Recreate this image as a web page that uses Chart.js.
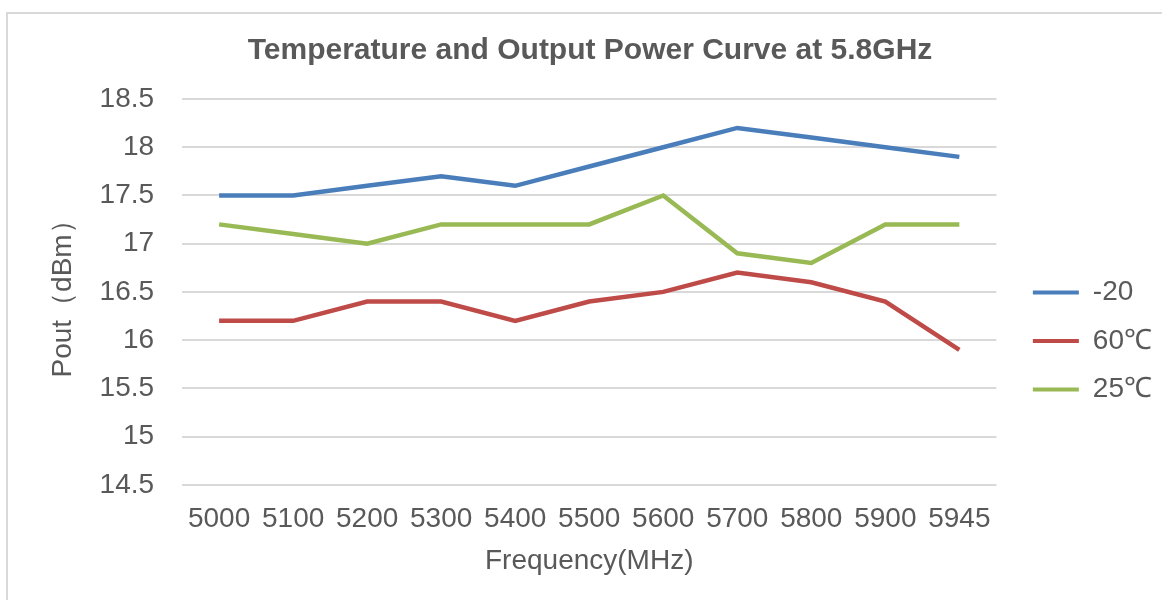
<!DOCTYPE html>
<html lang="en">
<head>
    <meta charset="UTF-8">
    <title>Temperature and Output Power Curve at 5.8GHz</title>
    <script src="https://cdn.jsdelivr.net/npm/chart.js"></script>
    <style>
        body { margin: 0; background: white; }
        #wrap { width: 1162px; height: 600px; position: relative; }
    </style>
</head>
<body>
    <div id="wrap"><canvas id="powerChart"></canvas></div>

    <script>
        // Data
        const frequencies = ['5000', '5100', '5200', '5300', '5400', '5500', '5600', '5700', '5800', '5900', '5945'];
        const seriesNames = ['-20', '60℃', '25℃'];
        const powerMinus20 = [17.5, 17.5, 17.6, 17.7, 17.6, 17.8, 18.0, 18.2, 18.1, 18.0, 17.9];
        const power60 = [16.2, 16.2, 16.4, 16.4, 16.2, 16.4, 16.5, 16.7, 16.6, 16.4, 15.9];
        const power25 = [17.2, 17.1, 17.0, 17.2, 17.2, 17.2, 17.5, 16.9, 16.8, 17.2, 17.2];
        const yMin = 14.5, yMax = 18.5, yStep = 0.5;

        const textColor = '#595959';
        const colors = ['#4a7ebb', '#be4b48', '#98b954'];
        const font = 'Arial, "Liberation Sans", sans-serif';

        // light grey frame round the chart, like the office chart border
        const framePlugin = {
            id: 'frame',
            beforeDraw(chart) {
                let c = chart.ctx;
                c.save();
                c.strokeStyle = '#d9d9d9';
                c.lineWidth = 2;
                c.beginPath();
                c.moveTo(7, 600);
                c.lineTo(7, 13);
                c.lineTo(1162, 13);
                c.stroke();
                c.restore();
            }
        };

        let ctx = document.getElementById('powerChart').getContext('2d');
        let powerChart = new Chart(ctx, {
            type: 'line',
            data: {
                labels: frequencies,
                datasets: [powerMinus20, power60, power25].map((values, i) => ({
                    label: seriesNames[i],
                    data: values,
                    borderColor: colors[i],
                    backgroundColor: colors[i],
                    borderWidth: 4.5,
                    pointRadius: 0,
                    tension: 0,
                    fill: false
                }))
            },
            options: {
                responsive: true,
                maintainAspectRatio: false,
                animation: false,
                layout: { padding: { top: 33, left: 18, right: 0, bottom: 22 } },
                scales: {
                    x: {
                        offset: true,
                        grid: { display: false, drawTicks: false },
                        border: { display: false },
                        ticks: { color: textColor, font: { family: font, size: 28 }, padding: 18, maxRotation: 0, autoSkip: false },
                        title: { display: true, text: 'Frequency(MHz)', color: textColor, font: { family: font, size: 28 }, padding: { top: -10, bottom: 0 } }
                    },
                    y: {
                        min: yMin,
                        max: yMax,
                        ticks: {
                            stepSize: yStep,
                            color: textColor,
                            font: { family: font, size: 28 },
                            padding: 28,
                            callback: value => String(value)
                        },
                        grid: { color: '#d9d9d9', lineWidth: 2, drawTicks: false },
                        border: { display: false },
                        title: { display: true, text: 'Pout（dBm）', color: textColor, font: { family: font, size: 28 }, padding: { top: 28, bottom: -8 } }
                    },
                    // empty spacer so the legend sits apart from the plot
                    gap: {
                        position: 'right',
                        grid: { display: false },
                        border: { display: false },
                        ticks: { display: false },
                        afterFit(scale) { scale.width = 16; }
                    }
                },
                plugins: {
                    title: {
                        display: true,
                        text: 'Temperature and Output Power Curve at 5.8GHz',
                        color: textColor,
                        font: { family: font, size: 30, weight: 'bold' },
                        padding: { top: 0, bottom: 30 }
                    },
                    legend: {
                        position: 'right',
                        title: { display: true, text: ' ', font: { size: 10 }, padding: { top: 59, bottom: 0 } },
                        labels: {
                            color: textColor,
                            font: { family: font, size: 28 },
                            boxWidth: 46,
                            boxHeight: 4,
                            padding: 20.5,
                            generateLabels(chart) {
                                return chart.data.datasets.map((ds, i) => ({
                                    text: ds.label,
                                    fillStyle: ds.borderColor,
                                    strokeStyle: ds.borderColor,
                                    lineWidth: 0,
                                    fontColor: textColor,
                                    datasetIndex: i
                                }));
                            }
                        }
                    },
                    tooltip: { enabled: false }
                }
            },
            plugins: [framePlugin]
        });
    </script>
</body>
</html>
